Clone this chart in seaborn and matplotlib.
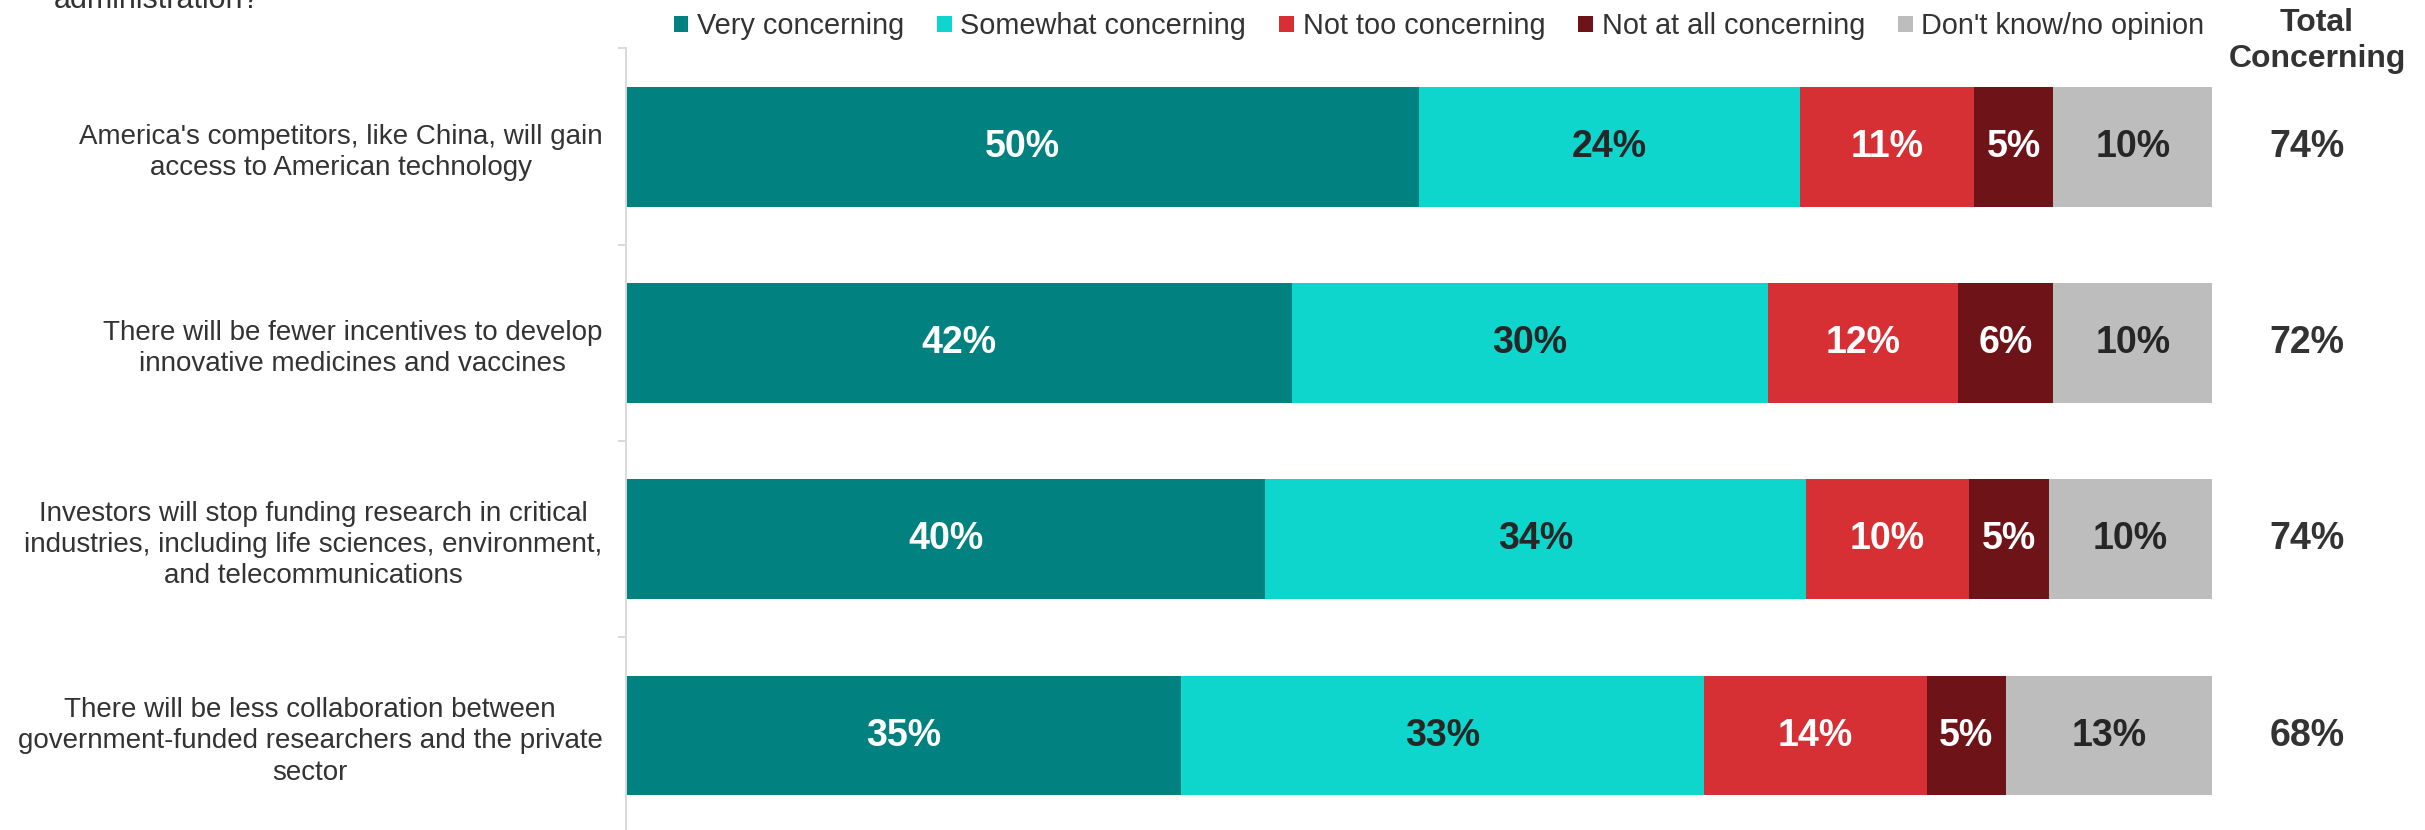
import matplotlib
matplotlib.use("Agg")
import matplotlib.pyplot as plt
from matplotlib.patches import Patch
from matplotlib.ticker import FixedLocator
import numpy as np
import pandas as pd
import seaborn as sns

# Survey statements (rows, top to bottom)
statements = [
    "America's competitors, like China, will gain\naccess to American technology",
    "There will be fewer incentives to develop\ninnovative medicines and vaccines",
    "Investors will stop funding research in critical\nindustries, including life sciences, environment,\nand telecommunications",
    "There will be less collaboration between\ngovernment-funded researchers and the private\nsector",
]

# Response categories
responses = ["Very concerning", "Somewhat concerning", "Not too concerning",
             "Not at all concerning", "Don't know/no opinion"]

# Share of respondents (%) per statement
very_concerning = [50, 42, 40.3, 35]
somewhat_concerning = [24, 30, 34.1, 33]
not_too_concerning = [11, 12, 10.3, 14]
not_at_all_concerning = [5, 6, 5.0, 5]
dont_know = [10, 10, 10.3, 13]

colors = ["#018180", "#0FD6CC", "#D63035", "#6E1318", "#BDBDBD"]
label_colors = ["white", "#262626", "white", "white", "#262626"]
TEXT = "#333333"

series = [very_concerning, somewhat_concerning, not_too_concerning,
          not_at_all_concerning, dont_know]

rows = []
for resp, vals in zip(responses, series):
    for stmt, v in zip(statements, vals):
        rows.append({"statement": stmt, "response": resp, "value": v})
df = pd.DataFrame(rows)
df["cum"] = df.groupby("statement", sort=False)["value"].cumsum()
df["mid"] = df["cum"] - df["value"] / 2

sns.set_style("white")
plt.rcParams["font.family"] = ["Liberation Sans", "DejaVu Sans"]

W, H = 2425, 830
fig = plt.figure(figsize=(W / 100, H / 100), dpi=100)
ax_left, ax_right = 626, 2212
ax_top, ax_bot = 48.5, 833.7
ax = fig.add_axes([ax_left / W, 1 - ax_bot / H,
                   (ax_right - ax_left) / W, (ax_bot - ax_top) / H])

# Stacked bars: draw the cumulative totals from the outermost segment inward
for resp, col in reversed(list(zip(responses, colors))):
    sub = df[df["response"] == resp]
    sns.barplot(data=sub, x="cum", y="statement", order=statements,
                color=col, saturation=1, width=0.61, orient="h", ax=ax,
                errorbar=None, linewidth=0, edgecolor="none")

# Segment labels
for resp, lc in zip(responses, label_colors):
    sub = df[df["response"] == resp]
    for _, r in sub.iterrows():
        i = statements.index(r["statement"])
        ax.text(r["mid"], i, f"{r['value']:.0f}%", ha="center", va="center",
                color=lc, fontsize=27, fontweight="bold")

ax.set_xlim(0, 100)
ax.set_ylim(len(statements) - 0.5, -0.5)
ax.set_xlabel("")
ax.set_ylabel("")
ax.set_xticks([])

for s in ["top", "right", "bottom"]:
    ax.spines[s].set_visible(False)
ax.spines["left"].set_color("#D9D9D9")
ax.spines["left"].set_linewidth(1.4)

ax.set_yticks(range(len(statements)))
ax.set_yticklabels(statements, fontsize=20, color=TEXT,
                   multialignment="center", linespacing=1.27)
ax.tick_params(axis="y", which="major", length=0, pad=17)
ax.yaxis.set_minor_locator(FixedLocator(np.arange(-0.5, len(statements), 1.0)))
ax.tick_params(axis="y", which="minor", length=6, width=1.4, color="#D9D9D9",
               left=True)

# Total concerning column
totals = [a + b for a, b in zip(very_concerning, somewhat_concerning)]
tot_x = 2307
for i, t in enumerate(totals):
    ax.annotate(f"{t:.0f}%", xy=(1, i), xycoords=("axes fraction", "data"),
                xytext=(tot_x - ax_right, 0), textcoords="offset pixels",
                ha="center", va="center", fontsize=27, fontweight="bold",
                color=TEXT)

fig.text(2317 / W, 1 - 41 / H, "Total\nConcerning", ha="center", va="center",
         fontsize=23, fontweight="bold", color=TEXT, linespacing=1.28)

# Question text (last line)
fig.text(54 / W, 1 - 8 / H, "administration?", ha="left", va="baseline",
         fontsize=22, color=TEXT)

handles = [Patch(facecolor=c, edgecolor="none", label=r)
           for r, c in zip(responses, colors)]
fig.legend(handles=handles, loc="center", ncol=5,
           bbox_to_anchor=(1439 / W, 1 - 26 / H), frameon=False,
           fontsize=20.8, handlelength=0.5, handleheight=0.5,
           handletextpad=0.3, columnspacing=1.15, labelcolor=TEXT,
           borderpad=0, borderaxespad=0)

fig.savefig("out.png", dpi=100)
